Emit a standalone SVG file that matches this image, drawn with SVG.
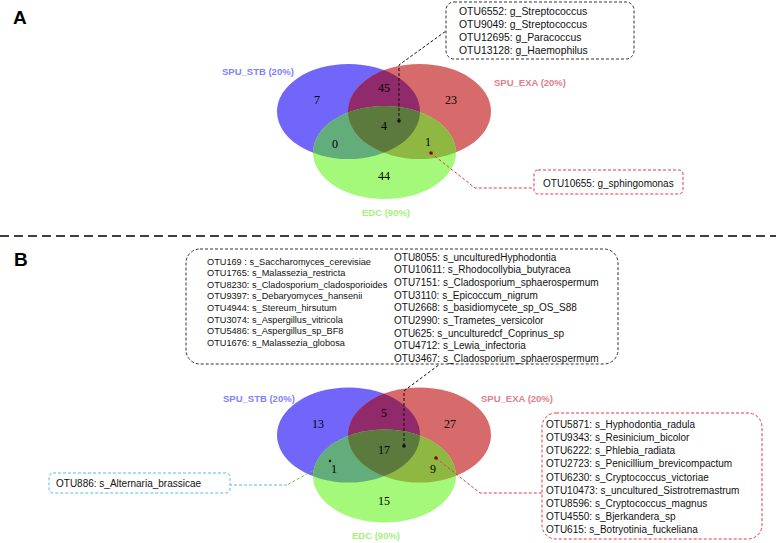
<svg xmlns="http://www.w3.org/2000/svg" width="776" height="543" viewBox="0 0 776 543">
<style>
.panel{font-family:"Liberation Sans",Arial,sans-serif;font-weight:bold;font-size:19px;fill:#000}
.num{font-family:"Liberation Serif","Times New Roman",serif;font-size:12px;fill:#000;text-anchor:middle}
.lbl{font-family:"Liberation Sans",Arial,sans-serif;font-weight:bold;font-size:9.5px}
.stb{fill:#8080ff}.exa{fill:#e0808c}.edc{fill:#a6f07c}
.t{font-family:"Liberation Sans",Arial,sans-serif;font-size:10px;fill:#111}
.ta{font-size:10.4px}
.tl{font-size:9.2px}
.box{fill:#fff;stroke-width:1;stroke-dasharray:3 2}
.kb{stroke:#333}.rb{stroke:#e23b44}.bb{stroke:#5cb8ec}
.ln{fill:none;stroke-width:1;stroke-dasharray:3 2}
</style>
<defs>
<ellipse id="eB" cx="348.5" cy="111.5" rx="71.5" ry="47.5"/>
<ellipse id="eR" cx="419.5" cy="111.5" rx="71.5" ry="47.5"/>
<ellipse id="eG" cx="384.5" cy="152.5" rx="71.5" ry="46.5"/>
<clipPath id="cB"><use href="#eB"/></clipPath>
<clipPath id="cR"><use href="#eR"/></clipPath>
<g id="venn">
<use href="#eB" fill="#7266fa"/>
<use href="#eR" fill="#d76a6b"/>
<use href="#eG" fill="#a5f97a"/>
<g clip-path="url(#cB)"><use href="#eR" fill="#912a6b"/></g>
<g clip-path="url(#cB)"><use href="#eG" fill="#63ad7d"/></g>
<g clip-path="url(#cR)"><use href="#eG" fill="#8fb842"/></g>
<g clip-path="url(#cB)"><g clip-path="url(#cR)"><use href="#eG" fill="#5c7a3e"/></g></g>
</g>
</defs>

<text class="panel" x="13" y="24">A</text>
<text class="panel" x="14" y="266">B</text>
<line x1="0" y1="236" x2="776" y2="236" stroke="#000" stroke-width="1.6" stroke-dasharray="9 5"/>

<g id="venn-A">
<use href="#venn"/>
<text class="num" x="384" y="92">45</text>
<text class="num" x="317" y="104">7</text>
<text class="num" x="451" y="104">23</text>
<text class="num" x="384" y="130">4</text>
<text class="num" x="335" y="148">0</text>
<text class="num" x="428" y="146">1</text>
<text class="num" x="384" y="180">44</text>
<text class="lbl stb" x="222" y="74.5">SPU_STB (20%)</text>
<text class="lbl exa" x="494" y="85.5">SPU_EXA (20%)</text>
<text class="lbl edc" x="362" y="215.5">EDC (90%)</text>
</g>

<g id="venn-B">
<use href="#venn" transform="translate(0,323.5)"/>
<text class="num" x="318" y="428">13</text>
<text class="num" x="384" y="417">5</text>
<text class="num" x="450" y="428">27</text>
<text class="num" x="384" y="454">17</text>
<text class="num" x="334" y="473">1</text>
<text class="num" x="433" y="473">9</text>
<text class="num" x="384" y="505">15</text>
<text class="lbl stb" x="223" y="401.5">SPU_STB (20%)</text>
<text class="lbl exa" x="481" y="401.5">SPU_EXA (20%)</text>
<text class="lbl edc" x="352" y="538.5">EDC (90%)</text>
</g>

<g id="connectors">
<path class="ln" stroke="#111" d="M399,121 L399,65 L446,31"/>
<circle cx="399" cy="121" r="1.8" fill="#111"/>
<path class="ln" stroke="#e23b44" d="M431,153 L475,188 L534,188"/>
<circle cx="431" cy="153" r="1.8" fill="#8b0000"/>
<path class="ln" stroke="#111" d="M404,446 L404,391 L440,364"/>
<circle cx="404" cy="446" r="1.8" fill="#111"/>
<path class="ln" stroke="#e23b44" d="M436,458 L480,493 L542,493"/>
<circle cx="436" cy="458" r="1.8" fill="#8b0000"/>
<path class="ln" stroke="#5fc23a" d="M330,461 L287,485"/>
<path class="ln" stroke="#5cb8ec" d="M287,485 L230,485"/>
<circle cx="330" cy="461" r="1.2" fill="#111"/>
</g>

<g id="box-A-core">
<rect class="box kb" x="446" y="2" width="188" height="57" rx="8"/>
<text class="t ta" x="459" y="14.5">OTU6552: g_Streptococcus</text>
<text class="t ta" x="459" y="27.5">OTU9049: g_Streptococcus</text>
<text class="t ta" x="459" y="40.5">OTU12695: g_Paracoccus</text>
<text class="t ta" x="459" y="53.5">OTU13128: g_Haemophilus</text>
</g>

<g id="box-A-exa-edc">
<rect class="box rb" x="534" y="170" width="149" height="24" rx="4"/>
<text class="t" x="543" y="186.5">OTU10655: g_sphingomonas</text>
</g>

<g id="box-B-core">
<rect class="box kb" x="186" y="249" width="432" height="115" rx="14"/>
<text class="t tl" x="207" y="264.5">OTU169  : s_Saccharomyces_cerevisiae</text>
<text class="t tl" x="207" y="276.1">OTU1765: s_Malassezia_restricta</text>
<text class="t tl" x="207" y="287.7">OTU8230: s_Cladosporium_cladosporioides</text>
<text class="t tl" x="207" y="299.3">OTU9397: s_Debaryomyces_hansenii</text>
<text class="t tl" x="207" y="310.9">OTU4944: s_Stereum_hirsutum</text>
<text class="t tl" x="207" y="322.5">OTU3074: s_Aspergillus_vitricola</text>
<text class="t tl" x="207" y="334.1">OTU5486: s_Aspergillus_sp_BF8</text>
<text class="t tl" x="207" y="345.7">OTU1676: s_Malassezia_globosa</text>
<text class="t" x="394" y="260.5">OTU8055: s_unculturedHyphodontia</text>
<text class="t" x="394" y="273.2">OTU10611: s_Rhodocollybia_butyracea</text>
<text class="t" x="394" y="285.9">OTU7151: s_Cladosporium_sphaerospermum</text>
<text class="t" x="394" y="298.6">OTU3110: s_Epicoccum_nigrum</text>
<text class="t" x="394" y="311.3">OTU2668: s_basidiomycete_sp_OS_S88</text>
<text class="t" x="394" y="324">OTU2990: s_Trametes_versicolor</text>
<text class="t" x="394" y="336.7">OTU625: s_unculturedcf_Coprinus_sp</text>
<text class="t" x="394" y="349.4">OTU4712: s_Lewia_infectoria</text>
<text class="t" x="394" y="362.1">OTU3467: s_Cladosporium_sphaerospermum</text>
</g>

<g id="box-B-exa-edc">
<rect class="box rb" x="542" y="413" width="220" height="126" rx="14"/>
<text class="t" x="546" y="427.8">OTU5871: s_Hyphodontia_radula</text>
<text class="t" x="546" y="441">OTU9343: s_Resinicium_bicolor</text>
<text class="t" x="546" y="454.2">OTU6222: s_Phlebia_radiata</text>
<text class="t" x="546" y="467.4">OTU2723: s_Penicillium_brevicompactum</text>
<text class="t" x="546" y="480.6">OTU6230: s_Cryptococcus_victoriae</text>
<text class="t" x="546" y="493.8">OTU10473:  s_uncultured_Sistrotremastrum</text>
<text class="t" x="546" y="507">OTU8596: s_Cryptococcus_magnus</text>
<text class="t" x="546" y="520.2">OTU4550: s_Bjerkandera_sp</text>
<text class="t" x="546" y="533.4">OTU615: s_Botryotinia_fuckeliana</text>
</g>

<g id="box-B-stb-edc">
<rect class="box bb" x="49" y="473" width="181" height="20" rx="4"/>
<text class="t" x="56" y="486.5">OTU886: s_Alternaria_brassicae</text>
</g>
</svg>
